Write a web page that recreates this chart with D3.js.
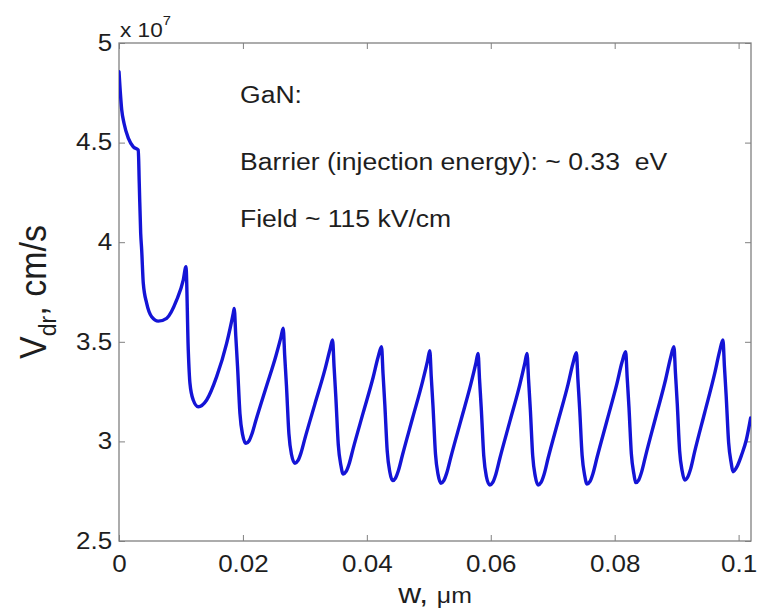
<!DOCTYPE html>
<html>
<head>
<meta charset="utf-8">
<script src="https://cdn.jsdelivr.net/npm/d3@7"></script>
<style>
  html, body { margin: 0; padding: 0; background: #fff; }
  svg { display: block; font-family: "Liberation Sans", Arial, Helvetica, sans-serif; }
</style>
</head>
<body>
<svg id="chart" width="760" height="610"></svg>
<script>
// ---- data (velocity in units of 1e7 cm/s, w in micrometres) ----
const w = [
  0, 0.00044, 0.00081, 0.0015, 0.00231, 0.00311, 0.00327, 0.0035, 0.00366, 0.00392, 0.00447, 0.00527, 0.00634, 0.00769, 0.00931, 0.01037, 0.01081,
  0.01118, 0.01145, 0.01198, 0.01279, 0.01415, 0.01576, 0.01737, 0.01844, 0.0186,
  0.01884, 0.01913, 0.01952, 0.01994, 0.02048, 0.02097, 0.02145, 0.0221, 0.02371, 0.02532, 0.02613, 0.0265,
  0.02674, 0.02703, 0.02742, 0.02784, 0.02839, 0.02887, 0.02935, 0.03, 0.03161, 0.03323, 0.03403, 0.03447,
  0.03471, 0.035, 0.03539, 0.03581, 0.03618, 0.03666, 0.03715, 0.03779, 0.0394, 0.04102, 0.04182, 0.04237,
  0.04261, 0.0429, 0.04329, 0.04371, 0.04415, 0.04463, 0.04511, 0.04576, 0.04737, 0.04898, 0.04979, 0.05016,
  0.0504, 0.05069, 0.05108, 0.0515, 0.05194, 0.05242, 0.0529, 0.05355, 0.05516, 0.05677, 0.05758, 0.05795,
  0.05819, 0.05848, 0.05887, 0.05929, 0.05984, 0.06032, 0.06081, 0.06145, 0.06306, 0.06468, 0.06548, 0.06585,
  0.0661, 0.06639, 0.06677, 0.06719, 0.06763, 0.06811, 0.0686, 0.06924, 0.07085, 0.07247, 0.07327, 0.07382,
  0.07406, 0.07435, 0.07474, 0.07516, 0.07553, 0.07602, 0.0765, 0.07715, 0.07876, 0.08037, 0.08118, 0.08177,
  0.08202, 0.08231, 0.08269, 0.08311, 0.08339, 0.08387, 0.08435, 0.085, 0.08661, 0.08823, 0.08903, 0.08956,
  0.08981, 0.0901, 0.09048, 0.0909, 0.09129, 0.09177, 0.09226, 0.0929, 0.09452, 0.09613, 0.09694, 0.09747,
  0.09771, 0.098, 0.09839, 0.09881, 0.09908, 0.09973, 0.10048, 0.10124, 0.10194
];
const vdr = [
  4.856, 4.664, 4.597, 4.522, 4.479, 4.463, 4.296, 4.045, 3.961, 3.794, 3.693, 3.626, 3.604, 3.618, 3.71, 3.81, 3.877,
  3.459, 3.292, 3.208, 3.174, 3.208, 3.325, 3.492, 3.643, 3.668,
  3.533, 3.377, 3.14, 3.035, 2.99, 3.002, 3.037, 3.106, 3.268, 3.429, 3.522, 3.568,
  3.432, 3.277, 3.039, 2.934, 2.89, 2.903, 2.94, 3.014, 3.187, 3.36, 3.459, 3.509,
  3.375, 3.22, 2.984, 2.88, 2.836, 2.849, 2.888, 2.964, 3.143, 3.322, 3.424, 3.475,
  3.341, 3.186, 2.951, 2.846, 2.803, 2.816, 2.855, 2.933, 3.116, 3.299, 3.403, 3.455,
  3.322, 3.169, 2.936, 2.833, 2.79, 2.803, 2.842, 2.92, 3.103, 3.286, 3.39, 3.442,
  3.31, 3.158, 2.927, 2.824, 2.781, 2.794, 2.834, 2.913, 3.098, 3.284, 3.39, 3.442,
  3.31, 3.158, 2.927, 2.824, 2.781, 2.794, 2.834, 2.914, 3.1, 3.286, 3.392, 3.445,
  3.313, 3.162, 2.931, 2.829, 2.786, 2.799, 2.839, 2.919, 3.105, 3.291, 3.397, 3.45,
  3.319, 3.168, 2.937, 2.835, 2.793, 2.806, 2.847, 2.929, 3.12, 3.312, 3.421, 3.475,
  3.341, 3.188, 2.953, 2.85, 2.806, 2.82, 2.862, 2.947, 3.144, 3.34, 3.453, 3.509,
  3.377, 3.225, 2.994, 2.891, 2.848, 2.873, 2.932, 3.007, 3.117
];
const xTicks = [0, 0.02, 0.04, 0.06, 0.08, 0.1];
const xTickLabels = ["0", "0.02", "0.04", "0.06", "0.08", "0.1"];
const yTicks = [2.5, 3, 3.5, 4, 4.5, 5];
const yTickLabels = ["2.5", "3", "3.5", "4", "4.5", "5"];
const notes = ["GaN:", "Barrier (injection energy): ~ 0.33  eV", "Field ~ 115 kV/cm"];

// ---- layout ----
const L = 119, R = 751, T = 43, B = 541;
const SX = 1.13; // horizontal text stretch seen in the reference
const svg = d3.select("#chart");
const x = d3.scaleLinear().domain([0, 0.102]).range([L, R]);
const y = d3.scaleLinear().domain([2.5, 5]).range([B, T]);
const axisColor = "#808080";
const textColor = "#1e1e1e";

// clip
svg.append("defs").append("clipPath").attr("id", "clip")
  .append("rect").attr("x", L).attr("y", T).attr("width", R - L).attr("height", B - T);

// axes
function styleAxis(g) {
  g.select(".domain").remove();
  g.selectAll(".tick line").attr("stroke", axisColor).attr("stroke-width", 1);
  g.selectAll(".tick text").attr("fill", textColor).attr("font-size", 23)
    .attr("transform", `scale(${SX},1)`);
}
svg.append("g").attr("transform", `translate(0,${B})`)
  .call(d3.axisBottom(x).tickValues(xTicks).tickSizeInner(-6).tickSizeOuter(0)
    .tickPadding(15).tickFormat((d, i) => xTickLabels[i]))
  .call(styleAxis);
svg.append("g").attr("transform", `translate(0,${T})`)
  .call(d3.axisTop(x).tickValues(xTicks).tickSizeInner(-6).tickSizeOuter(0).tickFormat(""))
  .call(styleAxis);
svg.append("g").attr("transform", `translate(${L},0)`)
  .call(d3.axisLeft(y).tickValues(yTicks).tickSizeInner(-6).tickSizeOuter(0)
    .tickPadding(6).tickFormat((d, i) => yTickLabels[i]))
  .call(styleAxis);
svg.append("g").attr("transform", `translate(${R},0)`)
  .call(d3.axisRight(y).tickValues(yTicks).tickSizeInner(-6).tickSizeOuter(0).tickFormat(""))
  .call(styleAxis);

// box
svg.append("rect").attr("x", L).attr("y", T).attr("width", R - L).attr("height", B - T)
  .attr("fill", "none").attr("stroke", axisColor).attr("stroke-width", 1.3);

// curve
const pts = w.map((d, i) => [d, vdr[i]]);
svg.append("path").datum(pts)
  .attr("clip-path", "url(#clip)")
  .attr("fill", "none").attr("stroke", "#1414d6").attr("stroke-width", 3.4)
  .attr("stroke-linejoin", "round").attr("stroke-linecap", "round")
  .attr("d", d3.line().x(d => x(d[0])).y(d => y(d[1])).curve(d3.curveMonotoneX));

// exponent label
const ex = svg.append("text").attr("transform", `translate(${L + 1},37) scale(${SX},1)`)
  .attr("fill", textColor).attr("font-size", 20);
ex.append("tspan").text("x 10");
ex.append("tspan").attr("font-size", 13).attr("dy", -12).text("7");

// annotations
const noteY = [103, 170, 227];
notes.forEach((t, i) => {
  svg.append("text").attr("transform", `translate(240,${noteY[i]}) scale(${SX},1)`)
    .attr("fill", textColor).attr("font-size", 23.5).style("white-space", "pre").text(t);
});

// x label
const xl = svg.append("text").attr("transform", `translate(${(L + R) / 2},603) scale(${SX},1)`)
  .attr("text-anchor", "middle").attr("fill", textColor).attr("font-size", 28);
xl.append("tspan").text("w, ");
xl.append("tspan").attr("font-size", 22).text("\u03bcm");

// y label
const yl = svg.append("text").attr("transform", `translate(46,${(T + B) / 2}) scale(1.08,1) rotate(-90)`)
  .attr("text-anchor", "middle").attr("fill", textColor).attr("font-size", 34);
yl.append("tspan").text("V");
yl.append("tspan").attr("font-size", 23).attr("dy", 9).text("dr");
yl.append("tspan").attr("dy", -9).text(", cm/s");
</script>
</body>
</html>
